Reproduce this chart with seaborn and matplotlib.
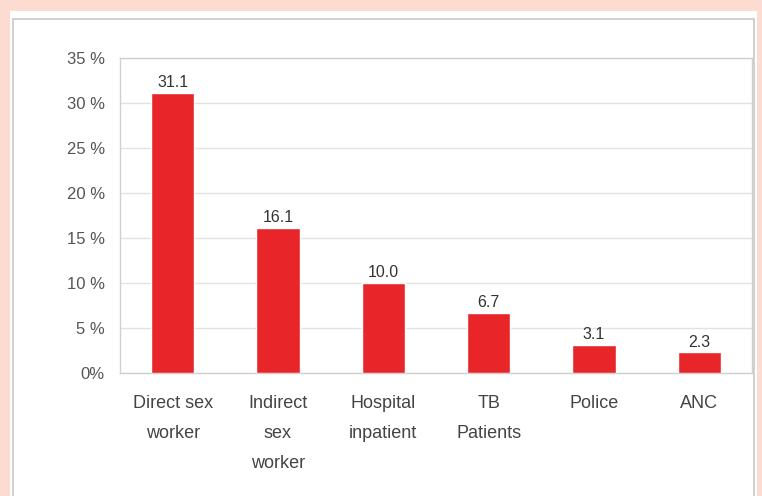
import matplotlib.pyplot as plt
import seaborn as sns
import pandas as pd
from matplotlib.patches import Rectangle

# DATA
categories = ["Direct sex\nworker", "Indirect\nsex\nworker", "Hospital\ninpatient",
              "TB\nPatients", "Police", "ANC"]
values = [31.1, 16.1, 10.0, 6.7, 3.1, 2.3]
y_ticks = [0, 5, 10, 15, 20, 25, 30, 35]
y_tick_labels = ["0%", "5 %", "10 %", "15 %", "20 %", "25 %", "30 %", "35 %"]

df = pd.DataFrame({"group": categories, "pct": values})

sns.set_style("white")
plt.rcParams["font.family"] = ["Liberation Sans", "DejaVu Sans"]

fig = plt.figure(figsize=(7.62, 4.96), dpi=100, facecolor="#fcdcd0")
W, H = 762, 496

# white panel with thin gray frame
fig.patches.append(Rectangle((10 / W, 0), 747 / W, 1 - 11 / H, transform=fig.transFigure,
                             facecolor="white", edgecolor="none", zorder=-2))
fig.patches.append(Rectangle((13 / W, -0.05), 741 / W, 1.05 - 19 / H, transform=fig.transFigure,
                             facecolor="none", edgecolor="#c8c8c8", linewidth=1.2, zorder=-1))

ax = fig.add_axes([120 / W, 1 - 373 / H, 632 / W, 315 / H])
ax.set_zorder(2)
ax.set_facecolor("white")

sns.barplot(data=df, x="group", y="pct", color="#e8262a", width=0.41,
            saturation=1, ax=ax, zorder=3)

# value labels above bars
for i, v in enumerate(values):
    ax.annotate(f"{v:.1f}", (i, v), xytext=(0, 2), textcoords="offset points",
                ha="center", va="bottom", fontsize=11.5, color="#333333")

ax.set_ylim(0, 35)
ax.set_yticks(y_ticks)
ax.set_yticklabels(y_tick_labels)
ax.yaxis.grid(True, color="#e2e2e2", linewidth=1, zorder=0)
ax.set_axisbelow(True)

for s in ax.spines.values():
    s.set_color("#d0d0d0")
    s.set_linewidth(1)

ax.tick_params(axis="y", length=0, pad=11, labelsize=12, labelcolor="#555555")
ax.tick_params(axis="x", length=0, pad=16, labelsize=13, labelcolor="#444444")
for lbl in ax.get_xticklabels():
    lbl.set_linespacing(2.0)

ax.set_xlabel("")
ax.set_ylabel("")

plt.savefig("out.png", dpi=100, facecolor=fig.get_facecolor())
